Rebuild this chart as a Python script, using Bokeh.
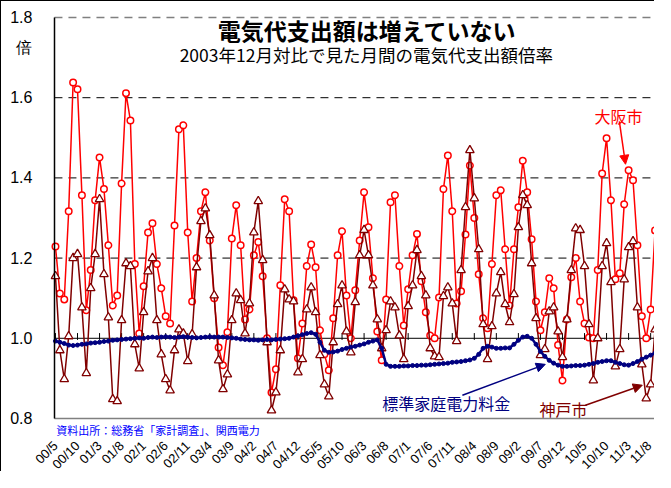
import math
from bokeh.plotting import figure
from bokeh.models import (Range1d, FixedTicker, PrintfTickFormatter, Label,
                          Arrow, NormalHead)
from bokeh.embed import file_html
from bokeh.resources import INLINE

# 大阪市 (monthly, from 2000/5)
osaka = [1.229, 1.112, 1.097, 1.317, 1.638, 1.621, 1.357, 1.070, 1.170, 1.344,
         1.451, 1.372, 1.232, 1.082, 1.107, 1.386, 1.611, 1.543, 1.185, 1.012,
         1.130, 1.264, 1.287, 1.185, 1.125, 1.055, 1.037, 1.281, 1.521, 1.531,
         1.264, 1.092, 1.200, 1.317, 1.364, 1.244, 1.100, 0.977, 0.933, 1.015,
         1.249, 1.332, 1.232, 1.047, 1.072, 1.207, 1.240, 1.155, 1.000, 0.865,
         0.923, 1.132, 1.347, 1.317, 1.095, 0.950, 1.037, 1.180, 1.234, 1.177,
         1.020, 0.960, 0.920, 1.050, 1.207, 1.267, 1.107, 1.000, 1.120, 1.244,
         1.364, 1.277, 1.150, 1.017, 0.945, 1.097, 1.339, 1.357, 1.180, 1.032,
         1.122, 1.207, 1.260, 1.142, 1.065, 1.007, 1.000, 1.102, 1.372, 1.456,
         1.317, 1.087, 1.117, 1.259, 1.431, 1.300, 1.160, 1.050, 1.025, 1.185,
         1.357, 1.369, 1.222, 1.082, 1.222, 1.327, 1.443, 1.364, 1.247, 1.092,
         1.020, 1.065, 1.150, 1.125, 0.983, 0.895, 1.047, 1.152, 1.200, 1.092,
         1.037, 1.002, 1.000, 1.170, 1.411, 1.499, 1.344, 1.147, 1.162, 1.334,
         1.419, 1.394, 1.232, 1.055, 1.000, 1.072, 1.269]

# 神戸市
kobe = [1.155, 0.970, 0.898, 1.005, 1.200, 1.210, 1.077, 0.913, 1.125, 1.210,
        1.347, 1.160, 1.052, 0.848, 0.843, 1.045, 1.187, 1.180, 0.985, 0.925,
        1.065, 1.167, 1.200, 1.045, 0.960, 0.898, 0.870, 0.970, 1.022, 1.012,
        0.943, 1.010, 1.177, 1.292, 1.324, 1.257, 1.107, 0.945, 0.873, 0.910,
        1.045, 1.112, 1.095, 1.012, 1.087, 1.264, 1.342, 1.195, 0.990, 0.820,
        0.865, 0.970, 1.122, 1.097, 1.092, 0.915, 0.948, 1.072, 1.127, 1.065,
        0.958, 0.885, 0.855, 0.990, 1.085, 1.132, 1.017, 0.965, 1.090, 1.207,
        1.270, 1.207, 1.132, 1.047, 0.975, 1.020, 1.092, 1.077, 1.007, 0.948,
        1.080, 1.132, 1.220, 1.155, 1.107, 0.975, 0.955, 0.953, 1.105, 1.127,
        1.087, 0.993, 1.170, 1.327, 1.469, 1.349, 1.222, 1.035, 0.948, 1.030,
        1.112, 1.165, 1.085, 1.040, 1.110, 1.277, 1.357, 1.332, 1.187, 1.050,
        0.958, 0.973, 1.067, 1.077, 1.017, 0.953, 1.047, 1.170, 1.274, 1.270,
        1.180, 1.035, 0.895, 1.000, 1.180, 1.237, 1.140, 0.930, 0.973, 1.147,
        1.227, 1.242, 1.077, 0.935, 0.850, 0.885, 1.022]

# 標準家庭電力料金
tariff = [0.993, 0.990, 0.987, 0.983, 0.982, 0.983, 0.985, 0.986, 0.988, 0.989,
          0.990, 0.992, 0.993, 0.995, 0.996, 0.997, 0.998, 0.999, 1.000, 1.001,
          1.000, 1.002, 1.003, 1.002, 1.003, 1.004, 1.003, 1.002, 1.003, 1.004,
          1.003, 1.002, 1.001, 1.002, 1.003, 1.004, 1.003, 1.003, 1.003, 1.002,
          1.001, 1.000, 0.998, 0.997, 0.996, 0.996, 0.995, 0.996, 0.997, 0.996,
          0.997, 0.998, 0.999, 1.000, 1.003, 1.006, 1.009, 1.012, 1.014, 1.010,
          0.990, 0.970, 0.965, 0.966, 0.968, 0.972, 0.975, 0.978, 0.980, 0.983,
          0.986, 0.990, 0.993, 0.996, 0.975, 0.935, 0.930, 0.930, 0.930, 0.931,
          0.931, 0.932, 0.932, 0.933, 0.933, 0.934, 0.935, 0.936, 0.937, 0.938,
          0.940, 0.941, 0.942, 0.944, 0.946, 0.950, 0.960, 0.975, 0.980, 0.978,
          0.975, 0.975, 0.976, 0.976, 0.985, 0.995, 1.003, 1.005, 1.000, 0.985,
          0.967, 0.955, 0.945, 0.938, 0.933, 0.930, 0.930, 0.931, 0.932, 0.932,
          0.933, 0.935, 0.937, 0.940, 0.942, 0.944, 0.944, 0.940, 0.937, 0.934,
          0.933, 0.937, 0.942, 0.948, 0.953, 0.958, 0.963, 0.968]

tick_labels = ["00/5", "00/10", "01/3", "01/8", "02/1", "02/6", "02/11", "03/4",
               "03/9", "04/2", "04/7", "04/12", "05/5", "05/10", "06/3", "06/8",
               "07/1", "07/6", "07/11", "08/4", "08/9", "09/2", "09/7", "09/12",
               "10/5", "10/10", "11/3", "11/8"]
tick_step = 5
y_ticks = [0.8, 1.0, 1.2, 1.4, 1.6, 1.8]
y_min, y_max = 0.8, 1.8
unit_label = "倍"
unit_pos = 1.725
grid_levels = [1.2, 1.4, 1.6]
base_level = 1.0
source_text = "資料出所：総務省「家計調査」、関西電力"

tick_pos = [i * tick_step for i in range(len(tick_labels))]
x_osaka = list(range(len(osaka)))
x_kobe = list(range(len(kobe)))
x_tariff = list(range(len(tariff)))

RED = "#FF0000"
MAROON = "#800000"
NAVY = "#000080"
JP = "Noto Sans CJK JP"

# the frame fills the whole figure; axes are drawn at fixed spots inside it
x_left, x_right = -0.23, 136.1       # plotting-area edges (month index)
p = figure(width=654, height=471, output_backend="svg", toolbar_location=None,
           x_range=Range1d(-12.24, x_right), y_range=Range1d(0.6653, 1.8399),
           min_border_left=0, min_border_right=0, min_border_top=0,
           min_border_bottom=0, background_fill_color="white",
           border_fill_color="white")
p.styles = {"border-left": "1px solid black", "border-top": "1px solid black"}
p.outline_line_color = None
p.xgrid.visible = False
p.ygrid.visible = False

# y axis (unit "倍" shown as an extra labelled tick under 1.8)
yax = p.yaxis[0]
yax.fixed_location = x_left
yax.ticker = FixedTicker(ticks=y_ticks + [unit_pos])
yax.formatter = PrintfTickFormatter(format="%.1f")
yax.major_label_overrides = {unit_pos: unit_label}
yax.bounds = (y_min, y_max)
yax.major_tick_line_color = None
yax.minor_tick_line_color = None
yax.major_tick_out = 0
yax.minor_tick_out = 0
yax.axis_line_color = "black"
yax.axis_line_width = 1.5
yax.major_label_text_font = "Liberation Sans"
yax.major_label_text_font_size = "16px"
yax.major_label_text_color = "black"
yax.major_label_standoff = 22

# month axis drawn just under the source note
xax = p.xaxis[0]
xax.fixed_location = 0.7426
xax.ticker = FixedTicker(ticks=tick_pos)
xax.major_label_overrides = {t: lab for t, lab in zip(tick_pos, tick_labels)}
xax.major_label_orientation = math.pi / 4
xax.axis_line_color = None
xax.major_tick_line_color = None
xax.minor_tick_line_color = None
xax.major_tick_out = 0
xax.minor_tick_out = 0
xax.major_label_text_font = "Liberation Sans"
xax.major_label_text_font_size = "13px"
xax.major_label_text_color = "black"
xax.major_label_standoff = 2

# horizontal rules across the plotting area
p.segment(x0=[x_left] * len(grid_levels), x1=[x_right] * len(grid_levels),
          y0=grid_levels, y1=grid_levels, line_color="black", line_dash="8 6",
          line_width=1)
p.segment(x0=[x_left], x1=[x_right], y0=[y_max], y1=[y_max], line_color="#808080",
          line_dash="8 6", line_width=1.5)
p.segment(x0=[x_left], x1=[x_right], y0=[y_min], y1=[y_min], line_color="#808080",
          line_width=1.5)
p.segment(x0=[x_left], x1=[x_right], y0=[base_level], y1=[base_level],
          line_color="black", line_width=1)
# category-axis tick marks on the 1.0 line
p.segment(x0=tick_pos, x1=tick_pos, y0=[base_level - 0.004] * len(tick_pos),
          y1=[base_level + 0.013] * len(tick_pos), line_color="black", line_width=1)

# series
p.line(x_osaka, osaka, line_color=RED, line_width=1.5)
p.scatter(x_osaka, osaka, marker="circle", size=6.5, fill_color="white",
          line_color=RED, line_width=1.5)
p.line(x_kobe, kobe, line_color=MAROON, line_width=1.5)
p.scatter(x_kobe, kobe, marker="triangle", size=8.5, fill_color="white",
          line_color=MAROON, line_width=1.3)
p.line(x_tariff, tariff, line_color=NAVY, line_width=2.5)
p.scatter(x_tariff, tariff, marker="circle", size=4, fill_color=NAVY,
          line_color=NAVY)

# texts
p.add_layout(Label(x=70.7, y=1.768, text="電気代支出額は増えていない", text_font=JP,
                   text_font_style="bold", text_font_size="23px",
                   text_align="center", text_baseline="middle", text_color="black"))
p.add_layout(Label(x=70.5, y=1.708, text="2003年12月対比で見た月間の電気代支出額倍率",
                   text_font=JP, text_font_size="17.5px", text_align="center",
                   text_baseline="middle", text_color="black"))
p.add_layout(Label(x=127.7, y=1.554, text="大阪市", text_font=JP,
                   text_font_size="16px", text_align="center",
                   text_baseline="middle", text_color=RED))
p.add_layout(Label(x=74.1, y=0.838, text="標準家庭電力料金", text_font=JP,
                   text_font_size="16px", text_align="left",
                   text_baseline="middle", text_color=NAVY))
p.add_layout(Label(x=109.8, y=0.823, text="神戸市", text_font=JP,
                   text_font_size="16px", text_align="left",
                   text_baseline="middle", text_color=MAROON))
p.add_layout(Label(x=0.2, y=0.771, text=source_text, text_font=JP,
                   text_font_size="11px", text_align="left",
                   text_baseline="middle", text_color="#0000FF"))

# arrows
p.add_layout(Arrow(end=NormalHead(size=9, fill_color=RED, line_color=RED),
                   x_start=127.9, y_start=1.541, x_end=129.3, y_end=1.434,
                   line_color=RED, line_width=1.5))
p.add_layout(Arrow(end=NormalHead(size=9, fill_color=NAVY, line_color=NAVY),
                   x_start=92.3, y_start=0.858, x_end=111.1, y_end=0.935,
                   line_color=NAVY, line_width=1.5))
p.add_layout(Arrow(end=NormalHead(size=9, fill_color=MAROON, line_color=MAROON),
                   x_start=120.2, y_start=0.833, x_end=133.1, y_end=0.883,
                   line_color=MAROON, line_width=1.5))

open("out.html", "w").write(file_html(p, INLINE))
